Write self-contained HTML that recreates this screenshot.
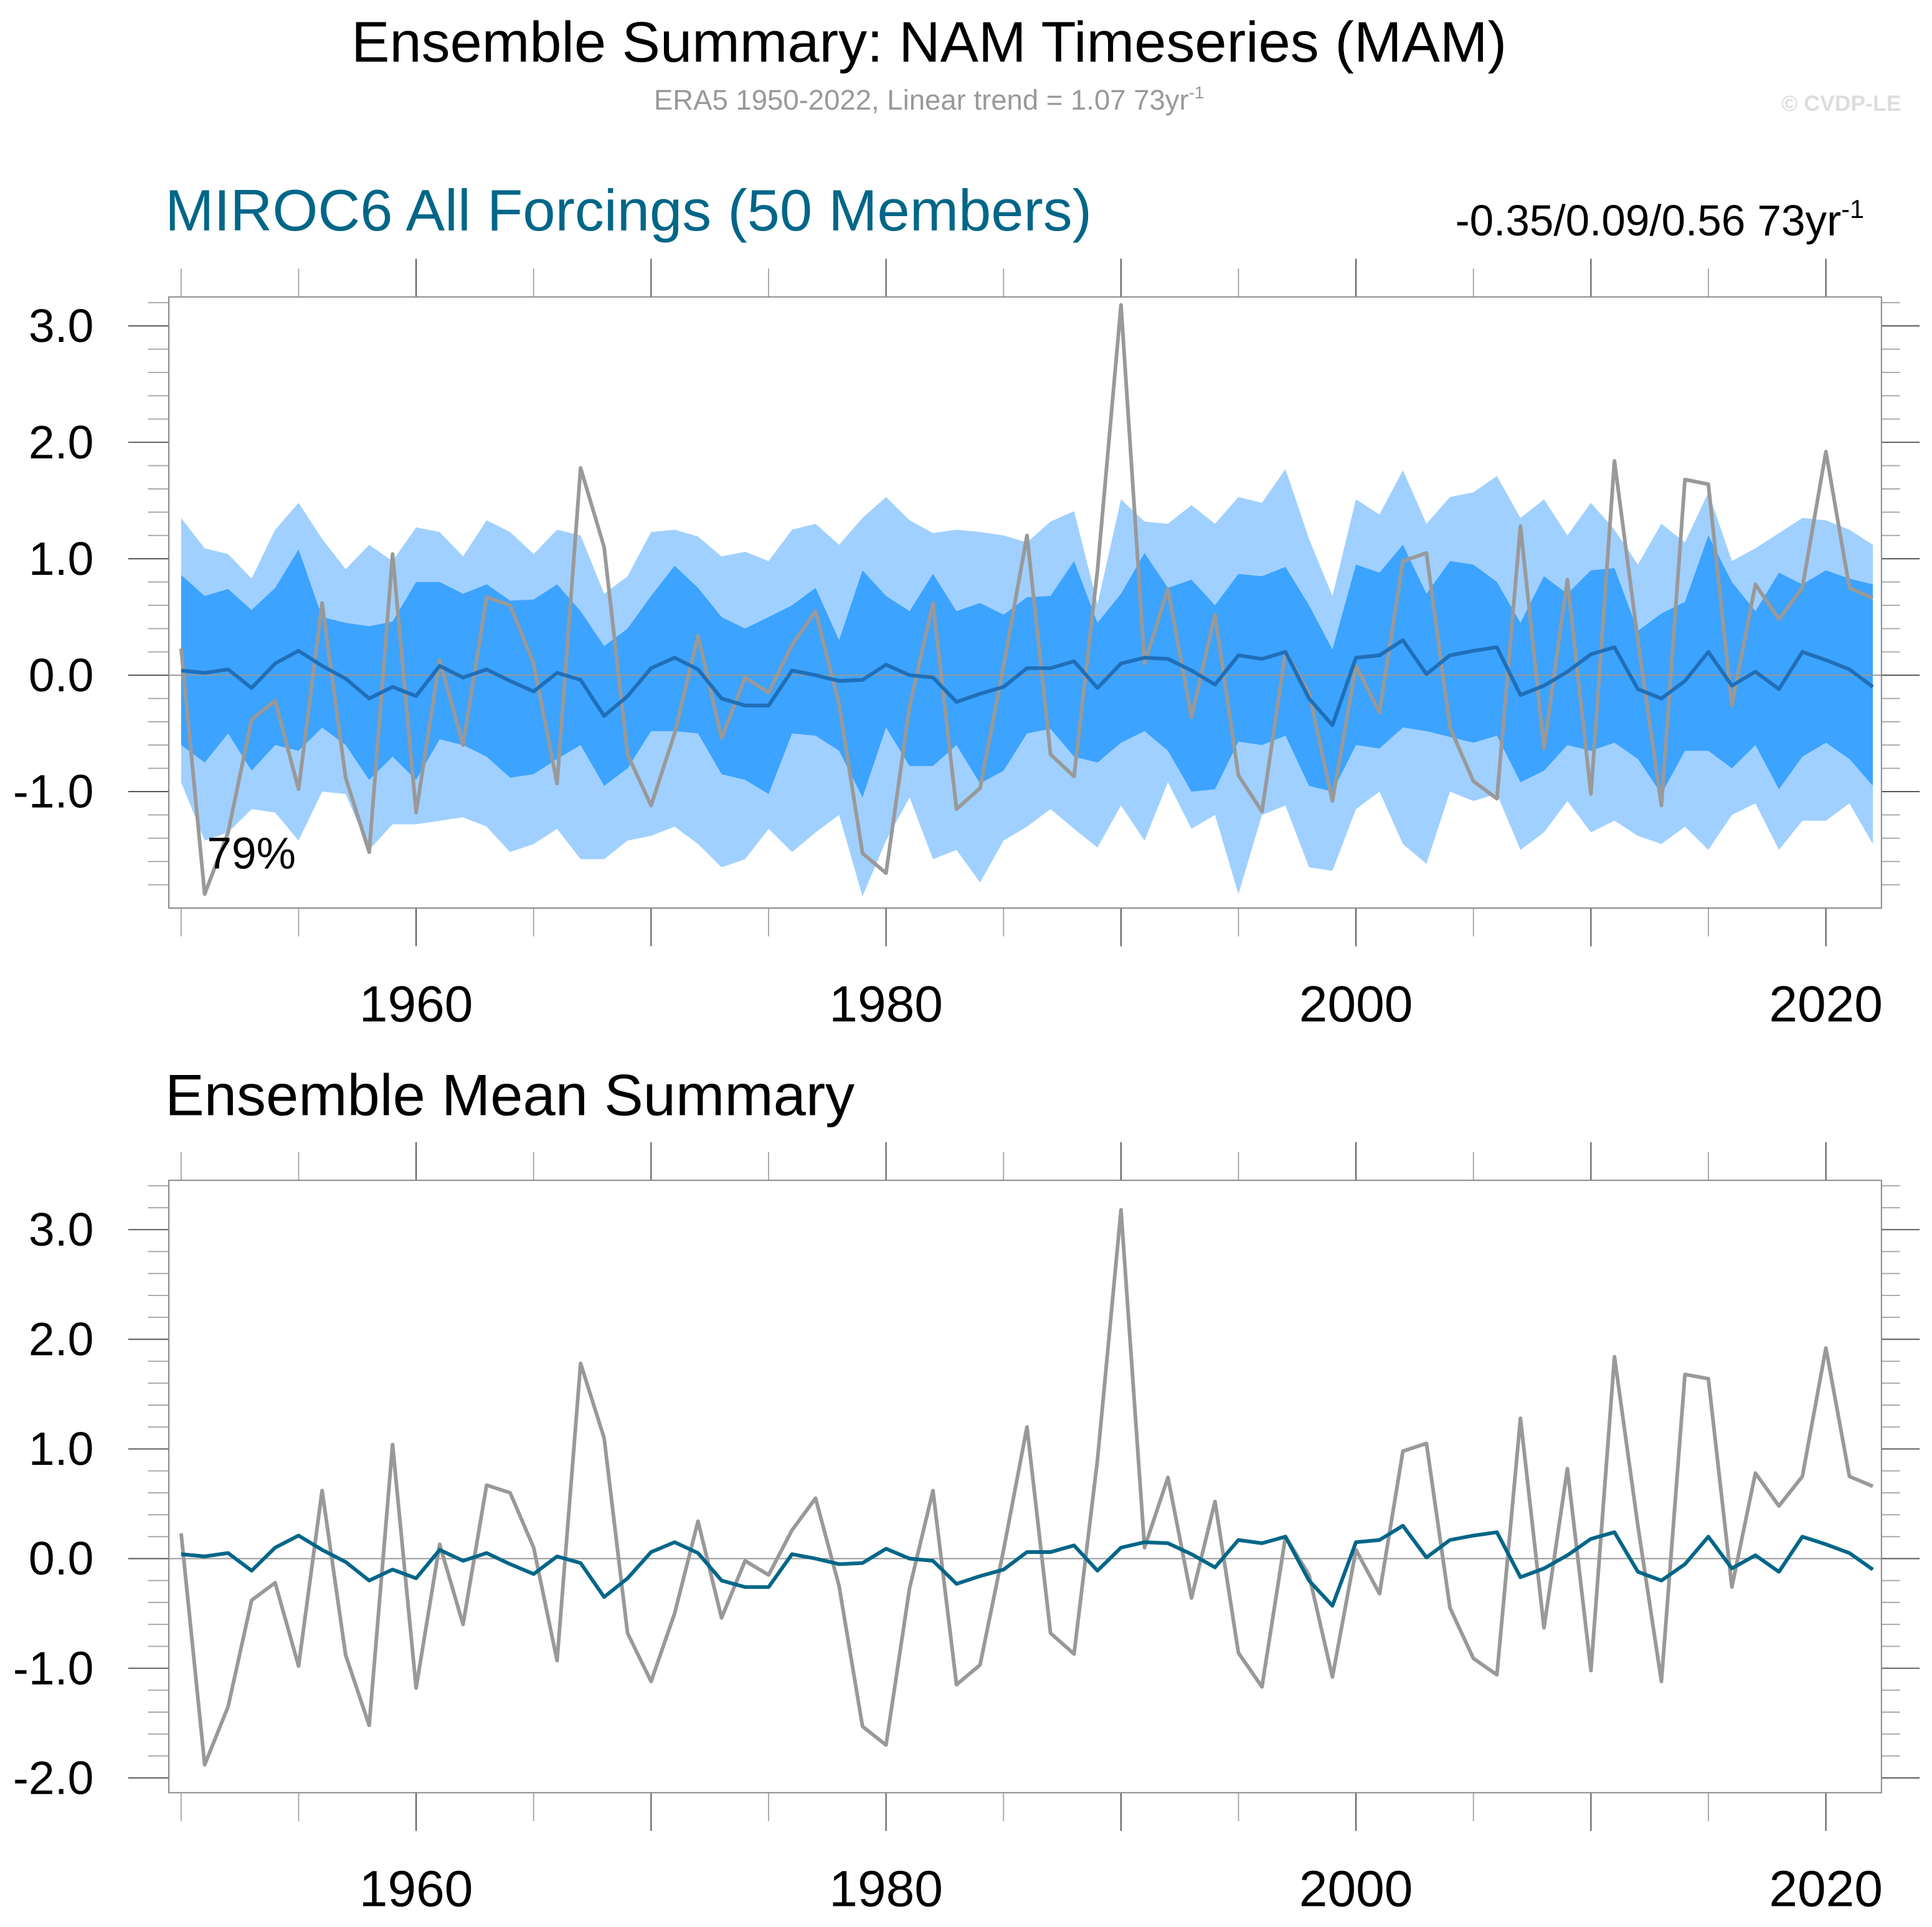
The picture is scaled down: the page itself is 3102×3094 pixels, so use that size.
<!DOCTYPE html>
<html><head><meta charset="utf-8"><style>
html,body{margin:0;padding:0;background:#fff}
svg{display:block;font-family:"Liberation Sans",sans-serif}
</style></head><body>
<svg id="chart" width="3102" height="3094" viewBox="0 0 1568 1564" xmlns="http://www.w3.org/2000/svg">
<text x="754" y="50" font-size="46.5" text-anchor="middle">Ensemble Summary: NAM Timeseries (MAM)</text>
<text x="754" y="89" font-size="23" fill="#999" text-anchor="middle">ERA5 1950-2022, Linear trend = 1.07 73yr<tspan font-size="14" dy="-9">-1</tspan></text>
<text x="1543" y="90" font-size="18" font-weight="bold" fill="#ddd" text-anchor="end">© CVDP-LE</text>
<text x="134" y="187" font-size="47.5" fill="#006688">MIROC6 All Forcings (50 Members)</text>
<text x="1513" y="191" font-size="35" text-anchor="end">-0.35/0.09/0.56 73yr<tspan font-size="21" dy="-14">-1</tspan></text>
<text x="134" y="905" font-size="47.5">Ensemble Mean Summary</text>
<g id="top"></g>
<g id="bot"></g>
</svg>
<script>
const years=[];for(let y=1950;y<=2022;y++)years.push(y);
const era5=[0.23,-1.88,-1.35,-0.38,-0.22,-0.98,0.62,-0.88,-1.52,1.04,-1.18,0.13,-0.6,0.67,0.6,0.1,-0.93,1.78,1.1,-0.68,-1.12,-0.5,0.34,-0.54,-0.02,-0.15,0.26,0.55,-0.25,-1.53,-1.7,-0.27,0.62,-1.15,-0.97,0.08,1.2,-0.68,-0.87,0.9,3.18,0.1,0.74,-0.36,0.52,-0.86,-1.17,0.2,-0.15,-1.08,0.08,-0.32,0.98,1.05,-0.45,-0.91,-1.06,1.28,-0.63,0.82,-1.02,1.84,0.3,-1.12,1.68,1.64,-0.26,0.78,0.48,0.75,1.92,0.75,0.66];
const ensMean=[0.04,0.02,0.05,-0.11,0.1,0.21,0.08,-0.03,-0.2,-0.1,-0.18,0.08,-0.02,0.05,-0.05,-0.14,0.02,-0.04,-0.35,-0.18,0.06,0.15,0.05,-0.2,-0.26,-0.26,0.04,0.0,-0.05,-0.04,0.09,0.0,-0.02,-0.23,-0.16,-0.1,0.06,0.06,0.12,-0.11,0.1,0.15,0.14,0.04,-0.08,0.17,0.14,0.2,-0.2,-0.43,0.15,0.17,0.3,0.01,0.17,0.21,0.24,-0.17,-0.09,0.03,0.18,0.24,-0.12,-0.2,-0.05,0.2,-0.09,0.03,-0.12,0.2,0.13,0.05,-0.1];
const outerUpper=[1.35,1.09,1.04,0.83,1.25,1.48,1.17,0.91,1.12,0.98,1.27,1.23,1.02,1.33,1.23,1.04,1.25,1.2,0.7,0.85,1.23,1.25,1.19,1.02,1.06,0.98,1.25,1.3,1.12,1.35,1.53,1.33,1.22,1.25,1.23,1.2,1.14,1.32,1.41,0.61,1.51,1.32,1.3,1.46,1.3,1.53,1.48,1.77,1.17,0.68,1.51,1.38,1.76,1.3,1.53,1.57,1.71,1.35,1.51,1.2,1.48,1.25,0.95,1.3,1.14,1.57,0.98,1.09,1.22,1.35,1.33,1.25,1.12];
const innerUpper=[0.86,0.68,0.74,0.56,0.75,1.08,0.5,0.45,0.42,0.46,0.8,0.8,0.7,0.78,0.64,0.65,0.78,0.55,0.25,0.4,0.68,0.94,0.75,0.5,0.4,0.5,0.6,0.75,0.3,0.9,0.68,0.55,0.87,0.55,0.62,0.52,0.67,0.68,0.98,0.45,0.7,1.05,0.75,0.82,0.6,0.87,0.85,0.93,0.6,0.22,0.95,0.88,1.12,0.7,0.98,0.95,0.8,0.45,0.85,0.7,0.9,0.92,0.38,0.53,0.63,1.2,0.8,0.55,0.88,0.78,0.9,0.83,0.78];
const innerLower=[-0.6,-0.75,-0.5,-0.82,-0.6,-0.65,-0.45,-0.6,-0.9,-0.7,-0.9,-0.55,-0.6,-0.7,-0.88,-0.85,-0.72,-0.6,-0.95,-0.8,-0.48,-0.48,-0.5,-0.85,-0.9,-1.02,-0.5,-0.52,-0.65,-1.05,-0.45,-0.78,-0.78,-0.6,-0.93,-0.82,-0.5,-0.46,-0.7,-0.75,-0.58,-0.48,-0.65,-1.0,-0.98,-0.57,-0.6,-0.52,-0.95,-1.0,-0.6,-0.63,-0.45,-0.48,-0.53,-0.58,-0.52,-0.92,-0.82,-0.6,-0.65,-0.58,-0.72,-1.02,-0.65,-0.65,-0.8,-0.6,-0.98,-0.7,-0.58,-0.72,-0.95];
const outerLower=[-0.92,-1.42,-1.35,-1.15,-1.18,-1.42,-1.0,-1.02,-1.5,-1.28,-1.28,-1.25,-1.22,-1.3,-1.52,-1.45,-1.32,-1.58,-1.58,-1.42,-1.38,-1.3,-1.45,-1.65,-1.58,-1.32,-1.52,-1.35,-1.2,-1.9,-1.42,-1.05,-1.58,-1.5,-1.78,-1.42,-1.3,-1.15,-1.32,-1.48,-1.12,-1.42,-0.92,-1.32,-1.2,-1.88,-1.2,-1.12,-1.65,-1.68,-1.15,-1.0,-1.45,-1.62,-1.0,-1.08,-1.02,-1.5,-1.35,-1.08,-1.35,-1.25,-1.38,-1.45,-1.3,-1.5,-1.2,-1.1,-1.5,-1.25,-1.25,-1.1,-1.45];
const topYTicks=["3.0","2.0","1.0","0.0","-1.0"];
const botYTicks=["3.0","2.0","1.0","0.0","-1.0","-2.0"];
const xTickLabels=["1960","1980","2000","2020"];

const NS="http://www.w3.org/2000/svg";
function mk(parent,tag,attrs){const e=document.createElementNS(NS,tag);for(const k in attrs)e.setAttribute(k,attrs[k]);parent.appendChild(e);return e;}
const xs=y=>147+(y-1950)*19.07;

function panel(box,yZero,pxPerUnit,yTicks,yMinV,yMaxV){
  const ys=v=>yZero-v*pxPerUnit;
  const [L,T,R,B]=box;
  return {ys,L,T,R,B,yTicks,yMinV,yMaxV};
}
function axes(g,p){
  const {ys,L,T,R,B}=p;
  for(let i=Math.round(p.yMinV*5);i<=Math.round(p.yMaxV*5);i++){
    const v=i/5,y=ys(v);if(y<T+1||y>B-1)continue;const maj=i%5===0;
    const t1=mk(g,'line',{x1:maj?104:120,x2:L,y1:y,y2:y,stroke:maj?'#555':'#aaa','stroke-width':1});
    
    const t2=mk(g,'line',{x1:R,x2:maj?1558:1542,y1:y,y2:y,stroke:maj?'#555':'#aaa','stroke-width':1});
    
  }
  p.yTicks.forEach(s=>{const y=ys(parseFloat(s));
    const t=mk(g,'text',{x:76,y:y+13,'font-size':38,'text-anchor':'end'});t.textContent=s;
    });
  for(let yr=1950;yr<=2020;yr+=5){const x=xs(yr),maj=yr%10===0&&yr!==1950;
    const a=mk(g,'line',{x1:x,x2:x,y1:maj?T-31:T-23,y2:T,stroke:maj?'#555':'#aaa'});
    
    const b=mk(g,'line',{x1:x,x2:x,y1:B,y2:maj?B+31:B+23,stroke:maj?'#555':'#aaa'});
    }
  xTickLabels.forEach(s=>{const t=mk(g,'text',{x:xs(+s),y:B+92,'font-size':41.5,'text-anchor':'middle'});t.textContent=s;
    });
  const f=mk(g,'rect',{x:L,y:T,width:R-L,height:B-T,fill:'none',stroke:'#888','stroke-width':1});
  
}
function line(g,p,vals,color,w,name){
  const d=vals.map((v,i)=>(i?'L':'M')+xs(years[i]).toFixed(1)+','+p.ys(v).toFixed(1)).join('');
  const e=mk(g,'path',{d:d,fill:'none',stroke:color,'stroke-width':w,'stroke-linejoin':'round'});
  
}
function band(g,p,up,lo,color,name){
  let d=up.map((v,i)=>(i?'L':'M')+xs(years[i]).toFixed(1)+','+p.ys(v).toFixed(1)).join('');
  for(let i=lo.length-1;i>=0;i--)d+='L'+xs(years[i]).toFixed(1)+','+p.ys(lo[i]).toFixed(1);
  const e=mk(g,'path',{d:d+'Z',fill:color});
  
}
function zero(g,p,name){const e=mk(g,'line',{x1:p.L,x2:p.R,y1:p.ys(0),y2:p.ys(0),stroke:'#999','stroke-width':1});
  }

const gt=document.getElementById('top');
const pt=panel([137,241,1527,737],548,94.5,topYTicks,-2.0,3.2);
band(gt,pt,outerUpper,outerLower,'#a0d0ff','outer-spread-band');
band(gt,pt,innerUpper,innerLower,'#3ca3ff','inner-spread-band');
zero(gt,pt,'zero-line');
line(gt,pt,era5,'#999',3,'era5-line');
line(gt,pt,ensMean,'#1f6fb8',3,'ensemble-mean-line');
axes(gt,pt);
const pc=mk(gt,'text',{x:168,y:705,'font-size':36});pc.textContent='79%';


const gb=document.getElementById('bot');
const pb=panel([137,958,1527,1455],1265,89,botYTicks,-2.2,3.4);
zero(gb,pb,'zero-line');
line(gb,pb,era5,'#999',3,'era5-line');
line(gb,pb,ensMean,'#006688',3,'ensemble-mean-line');
axes(gb,pb);
</script>
</body></html>
